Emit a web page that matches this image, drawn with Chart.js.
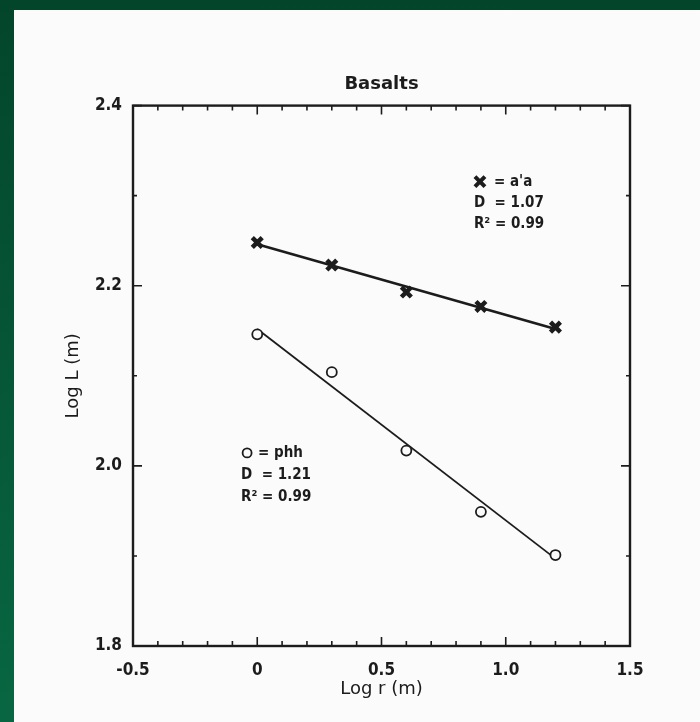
<!DOCTYPE html>
<html>
<head>
<meta charset="utf-8">
<script src="https://cdn.jsdelivr.net/npm/chart.js@4.4.1/dist/chart.umd.min.js"></script>
<style>
  html, body { margin: 0; padding: 0; }
  body {
    width: 700px; height: 722px; overflow: hidden; position: relative;
    background: linear-gradient(to bottom, #03452b, #086742);
  }
  #panel {
    position: absolute; left: 14px; top: 10px; width: 686px; height: 712px;
    background: #fbfbfb;
  }
</style>
</head>
<body>
<div id="panel"><canvas id="chart" width="686" height="712"></canvas></div>
<script>
// Log r (m) of the sampling steps
var logR = [0, 0.3, 0.6, 0.9, 1.2];
// a'a basalt
var aaLogL = [2.248, 2.223, 2.193, 2.177, 2.154];
// pahoehoe basalt
var phhLogL = [2.146, 2.104, 2.017, 1.949, 1.901];
// fitted lines, at the ends of the sampled range
var fitR = [0, 1.2];
var aaFit = [2.246, 2.152];
var phhFit = [2.152, 1.897];

var xTickValues = [-0.5, 0, 0.5, 1.0, 1.5];
var xTickLabels = ['-0.5', '0', '0.5', '1.0', '1.5'];
var yTickValues = [1.8, 2.0, 2.2, 2.4];
var yTickLabels = ['1.8', '2.0', '2.2', '2.4'];

var aaNote = ["= a'a", 'D  = 1.07', 'R\u00b2 = 0.99'];
var phhNote = ['= phh', 'D  = 1.21', 'R\u00b2 = 0.99'];

var ink = '#1c1c1c';
var condensed = '"DejaVu Sans Condensed", "DejaVu Sans", sans-serif';

function pairs(xs, ys) {
  return xs.map(function(v, i) { return {x: v, y: ys[i]}; });
}

function minorTicks(min, max, step) {
  var out = [];
  var n = Math.round((max - min) / step);
  for (var i = 0; i <= n; i++) out.push({value: Math.round((min + i * step) * 100) / 100});
  return out;
}

function labelFor(values, labels, v) {
  for (var i = 0; i < values.length; i++) {
    if (Math.abs(values[i] - v) < 1e-6) return labels[i];
  }
  return '';
}

// ticks pointing inwards on all four sides, plus the frame
var frameTicks = {
  id: 'frameTicks',
  afterDraw: function(chart) {
    var ctx = chart.ctx, a = chart.chartArea, x = chart.scales.x, y = chart.scales.y;
    ctx.save();
    ctx.strokeStyle = ink;
    ctx.lineWidth = 1.6;
    x.ticks.forEach(function(t) {
      var px = x.getPixelForValue(t.value);
      var len = labelFor(xTickValues, xTickLabels, t.value) ? 9 : 5;
      ctx.beginPath();
      ctx.moveTo(px, a.bottom); ctx.lineTo(px, a.bottom - len);
      ctx.moveTo(px, a.top); ctx.lineTo(px, a.top + len);
      ctx.stroke();
    });
    y.ticks.forEach(function(t) {
      var py = y.getPixelForValue(t.value);
      var len = labelFor(yTickValues, yTickLabels, t.value) ? 9 : 4;
      ctx.beginPath();
      ctx.moveTo(a.left, py); ctx.lineTo(a.left + len, py);
      ctx.moveTo(a.right, py); ctx.lineTo(a.right - len, py);
      ctx.stroke();
    });
    ctx.lineWidth = 2.4;
    ctx.strokeRect(a.left, a.top, a.right - a.left, a.bottom - a.top);
    ctx.restore();
  }
};

// the two key blocks written inside the plot
var notes = {
  id: 'notes',
  afterDraw: function(chart) {
    var ctx = chart.ctx, x = chart.scales.x, y = chart.scales.y;
    ctx.save();
    ctx.fillStyle = ink;
    ctx.strokeStyle = ink;
    ctx.font = 'bold 15px ' + condensed;
    ctx.textBaseline = 'middle';

    var ax = x.getPixelForValue(0.872), ay = y.getPixelForValue(2.3156);
    ctx.lineWidth = 4;
    ctx.beginPath();
    ctx.moveTo(ax + 1, ay - 5); ctx.lineTo(ax + 11, ay + 5);
    ctx.moveTo(ax + 11, ay - 5); ctx.lineTo(ax + 1, ay + 5);
    ctx.stroke();
    ctx.fillText(aaNote[0], ax + 20, ay);
    ctx.fillText(aaNote[1], ax, ay + 21);
    ctx.fillText(aaNote[2], ax, ay + 42);

    var bx = x.getPixelForValue(-0.065), by = y.getPixelForValue(2.0144);
    ctx.lineWidth = 1.8;
    ctx.beginPath();
    ctx.arc(bx + 6, by, 4.5, 0, Math.PI * 2);
    ctx.stroke();
    ctx.fillText(phhNote[0], bx + 17, by);
    ctx.fillText(phhNote[1], bx, by + 22);
    ctx.fillText(phhNote[2], bx, by + 44);
    ctx.restore();
  }
};

var ctx = document.getElementById('chart');
var chart = new Chart(ctx, {
  type: 'scatter',
  data: {
    datasets: [{
      label: "a'a",
      data: pairs(logR, aaLogL),
      pointStyle: 'crossRot',
      pointRadius: 7,
      borderWidth: 4.5,
      borderColor: ink,
      backgroundColor: ink,
      order: 1
    }, {
      label: 'phh',
      data: pairs(logR, phhLogL),
      pointStyle: 'circle',
      pointRadius: 5,
      borderWidth: 1.8,
      borderColor: ink,
      backgroundColor: '#fbfbfb',
      order: 1
    }, {
      label: "a'a fit",
      data: pairs(fitR, aaFit),
      showLine: true,
      pointRadius: 0,
      borderWidth: 2.6,
      borderColor: ink,
      order: 2
    }, {
      label: 'phh fit',
      data: pairs(fitR, phhFit),
      showLine: true,
      pointRadius: 0,
      borderWidth: 1.8,
      borderColor: ink,
      order: 2
    }]
  },
  options: {
    responsive: false,
    animation: false,
    layout: {
      padding: {top: 64, right: 70, bottom: 0, left: 0}
    },
    plugins: {
      legend: {display: false},
      tooltip: {enabled: false},
      title: {
        display: true,
        text: 'Basalts',
        fullSize: false,
        color: ink,
        font: {family: '"DejaVu Sans", sans-serif', size: 18, weight: 'bold'},
        padding: {top: 0, bottom: 10}
      }
    },
    scales: {
      x: {
        type: 'linear',
        min: -0.5,
        max: 1.5,
        afterBuildTicks: function(scale) { scale.ticks = minorTicks(-0.5, 1.5, 0.1); },
        afterFit: function(scale) { scale.height = 76; },
        grid: {display: false, drawTicks: false},
        border: {display: false},
        ticks: {
          autoSkip: false,
          maxRotation: 0,
          padding: 14,
          color: ink,
          font: {family: condensed, size: 17, weight: 'bold'},
          callback: function(v) { return labelFor(xTickValues, xTickLabels, v); }
        },
        title: {
          display: true,
          text: 'Log r (m)',
          color: ink,
          font: {family: '"DejaVu Sans", sans-serif', size: 18},
          padding: {top: 0, bottom: 22}
        }
      },
      y: {
        type: 'linear',
        min: 1.8,
        max: 2.4,
        afterBuildTicks: function(scale) { scale.ticks = minorTicks(1.8, 2.4, 0.1); },
        afterFit: function(scale) { scale.width = 119; },
        grid: {display: false, drawTicks: false},
        border: {display: false},
        ticks: {
          autoSkip: false,
          padding: 11,
          color: ink,
          font: {family: condensed, size: 17, weight: 'bold'},
          callback: function(v) { return labelFor(yTickValues, yTickLabels, v); }
        },
        title: {
          display: true,
          text: 'Log L (m)',
          color: ink,
          font: {family: '"DejaVu Sans", sans-serif', size: 18},
          padding: {top: 49, bottom: 0}
        }
      }
    }
  },
  plugins: [frameTicks, notes]
});
</script>
</body>
</html>
